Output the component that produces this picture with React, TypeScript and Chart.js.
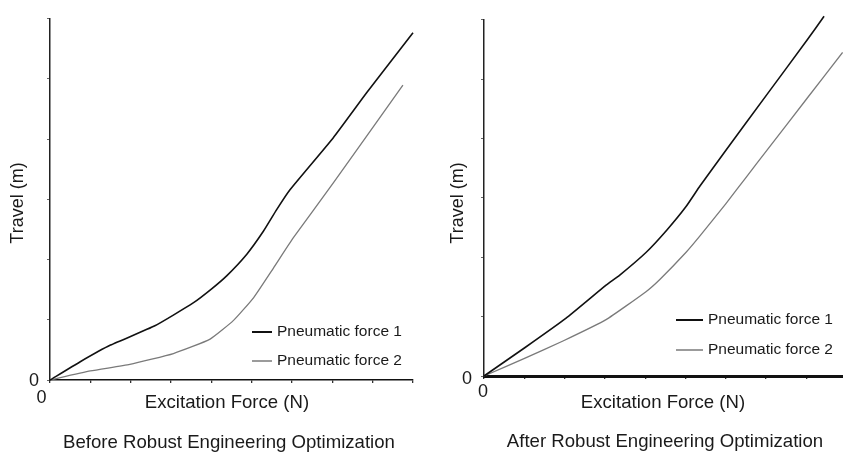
import React, { useEffect, useRef } from 'react';
import { Chart, registerables } from 'chart.js';

Chart.register(...registerables);

const FONT = '"Liberation Sans", Arial, Helvetica, sans-serif';
const TEXT_COLOR = '#1a1a1a';

// Excitation force (x) and travel (y), in axis tick units
const beforeForce1 = [0, 0.74, 1.5, 2.6, 3.55, 4.0, 4.38, 4.88, 5.29, 5.62, 5.95, 7.02, 7.85, 9.0];
const beforeTravel1 = [0, 0.3, 0.58, 0.9, 1.28, 1.51, 1.73, 2.09, 2.47, 2.83, 3.16, 4.02, 4.77, 5.77];
const beforeForce2 = [0, 1.0, 1.98, 3.06, 3.97, 4.55, 5.05, 5.54, 6.03, 7.02, 7.86, 8.75];
const beforeTravel2 = [0, 0.15, 0.26, 0.44, 0.68, 0.99, 1.37, 1.86, 2.36, 3.27, 4.06, 4.9];

const afterForce1 = [0, 1.02, 2.03, 3.03, 3.37, 4.02, 4.54, 5.01, 5.36, 6.0, 7.02, 8.01, 8.44];
const afterTravel1 = [0, 0.48, 0.97, 1.53, 1.7, 2.08, 2.46, 2.85, 3.2, 3.8, 4.74, 5.65, 6.06];
const afterForce2 = [0, 1.02, 1.96, 3.03, 4.02, 4.37, 5.01, 5.36, 6.0, 6.52, 7.02, 8.01, 8.9];
const afterTravel2 = [0, 0.3, 0.59, 0.95, 1.42, 1.63, 2.08, 2.36, 2.9, 3.36, 3.8, 4.67, 5.45];

const seriesLabels = ['Pneumatic force 1', 'Pneumatic force 2'];
const seriesColors = ['#111111', '#7a7a7a'];
const seriesWidths = [1.6, 1.3];
const xAxisTitle = 'Excitation Force (N)';
const yAxisTitle = 'Travel (m)';
const captions = ['Before Robust Engineering Optimization', 'After Robust Engineering Optimization'];
const zeroLabel = '0';

const toPoints = (xs: number[], ys: number[]) => xs.map((x, i) => ({ x, y: ys[i] }));

// Axis titles, caption and legend drawn on top of the plot
const panelText = {
  id: 'panelText',
  afterDraw(chart: any, _args: any, opts: any) {
    const { ctx } = chart;
    ctx.save();
    ctx.fillStyle = TEXT_COLOR;
    ctx.textAlign = 'center';
    ctx.textBaseline = 'middle';
    ctx.font = `18.6px ${FONT}`;
    ctx.fillText(opts.xTitle, opts.xTitleX, opts.xTitleY);
    ctx.fillText(opts.caption, opts.captionX, opts.captionY);
    ctx.save();
    ctx.font = `18px ${FONT}`;
    ctx.translate(opts.yTitleX, opts.yTitleY);
    ctx.rotate(-Math.PI / 2);
    ctx.fillText(opts.yTitle, 0, 0);
    ctx.restore();

    ctx.font = `15.5px ${FONT}`;
    ctx.textAlign = 'left';
    chart.data.datasets.forEach((ds: any, i: number) => {
      const y = opts.legendY + i * opts.legendGap;
      ctx.strokeStyle = ds.borderColor;
      ctx.lineWidth = i === 0 ? 2 : 1.5;
      ctx.beginPath();
      ctx.moveTo(opts.legendX, y);
      ctx.lineTo(opts.legendX + opts.legendLen, y);
      ctx.stroke();
      ctx.fillText(ds.label, opts.legendX + opts.legendLen + 5, y);
    });
    ctx.restore();
  },
};

type PanelCfg = {
  width: number;
  height: number;
  area: { left: number; top: number; right: number; bottom: number };
  xMax: number;
  xBorder: number;
  xLabelOffset: number;
  xPad: number;
  yPad: number;
  yLabelOffset: number;
  series: { x: number[]; y: number[] }[];
  text: Record<string, any>;
};

function Panel({ cfg, left }: { cfg: PanelCfg; left: number }) {
  const ref = useRef<HTMLCanvasElement | null>(null);

  useEffect(() => {
    if (!ref.current) return;
    const { area, width, height } = cfg;
    const tickFont = { family: FONT, size: 18 };
    const chart = new Chart(ref.current, {
      type: 'line',
      data: {
        datasets: cfg.series.map((s, i) => ({
          label: seriesLabels[i],
          data: toPoints(s.x, s.y),
          borderColor: seriesColors[i],
          borderWidth: seriesWidths[i],
          pointRadius: 0,
          fill: false,
          tension: 0.15,
          clip: false as any,
        })),
      },
      options: {
        responsive: false,
        animation: false,
        events: [],
        layout: { padding: { top: area.top, right: width - area.right, left: 0, bottom: 0 } },
        plugins: {
          legend: { display: false },
          tooltip: { enabled: false },
          title: { display: false },
          panelText: cfg.text,
        } as any,
        scales: {
          x: {
            type: 'linear',
            min: 0,
            max: cfg.xMax,
            afterFit: (s: any) => {
              s.height = height - area.bottom;
            },
            ticks: {
              stepSize: 1,
              autoSkip: false,
              includeBounds: false,
              maxRotation: 0,
              font: tickFont,
              color: TEXT_COLOR,
              padding: cfg.xPad,
              labelOffset: cfg.xLabelOffset,
              callback: (v: any) => (v === 0 ? zeroLabel : ''),
            },
            grid: { display: true, drawOnChartArea: false, drawTicks: true, tickLength: 3, color: '#333', lineWidth: 1.3 },
            border: { display: true, color: '#111', width: cfg.xBorder },
          },
          y: {
            type: 'linear',
            min: 0,
            max: 6,
            afterFit: (s: any) => {
              s.width = area.left;
            },
            ticks: {
              stepSize: 1,
              autoSkip: false,
              includeBounds: false,
              font: tickFont,
              color: TEXT_COLOR,
              padding: cfg.yPad,
              labelOffset: cfg.yLabelOffset,
              callback: (v: any) => (v === 0 ? zeroLabel : ''),
            },
            grid: { display: true, drawOnChartArea: false, drawTicks: true, tickLength: 3, color: '#666', lineWidth: 1 },
            border: { display: true, color: '#222', width: 1.5 },
          },
        } as any,
      },
      plugins: [panelText],
    });
    return () => chart.destroy();
  }, [cfg]);

  return (
    <canvas
      ref={ref}
      width={cfg.width}
      height={cfg.height}
      style={{ position: 'absolute', left, top: 0, width: cfg.width, height: cfg.height }}
    />
  );
}

const beforeCfg: PanelCfg = {
  width: 421,
  height: 456,
  area: { left: 50, top: 15, right: 413, bottom: 380 },
  xMax: 9,
  xBorder: 1.6,
  xLabelOffset: -8.5,
  xPad: 4,
  yPad: 8,
  yLabelOffset: 1,
  series: [
    { x: beforeForce1, y: beforeTravel1 },
    { x: beforeForce2, y: beforeTravel2 },
  ],
  text: {
    xTitle: xAxisTitle, xTitleX: 227, xTitleY: 403,
    yTitle: yAxisTitle, yTitleX: 18, yTitleY: 203,
    caption: captions[0], captionX: 229, captionY: 443,
    legendX: 252, legendY: 332, legendGap: 29, legendLen: 20,
  },
};

const afterCfg: PanelCfg = {
  width: 422,
  height: 456,
  area: { left: 63, top: 11, right: 422, bottom: 376 },
  xMax: 8.91,
  xBorder: 3,
  xLabelOffset: -1,
  xPad: 2,
  yPad: 9,
  yLabelOffset: 3,
  series: [
    { x: afterForce1, y: afterTravel1 },
    { x: afterForce2, y: afterTravel2 },
  ],
  text: {
    xTitle: xAxisTitle, xTitleX: 242, xTitleY: 403,
    yTitle: yAxisTitle, yTitleX: 37, yTitleY: 203,
    caption: captions[1], captionX: 244, captionY: 442,
    legendX: 255, legendY: 320, legendGap: 30, legendLen: 27,
  },
};

export default function App() {
  return (
    <div style={{ position: 'fixed', left: 0, top: 0, width: 843, height: 456, background: '#fff', overflow: 'hidden' }}>
      <Panel cfg={beforeCfg} left={0} />
      <Panel cfg={afterCfg} left={421} />
    </div>
  );
}
